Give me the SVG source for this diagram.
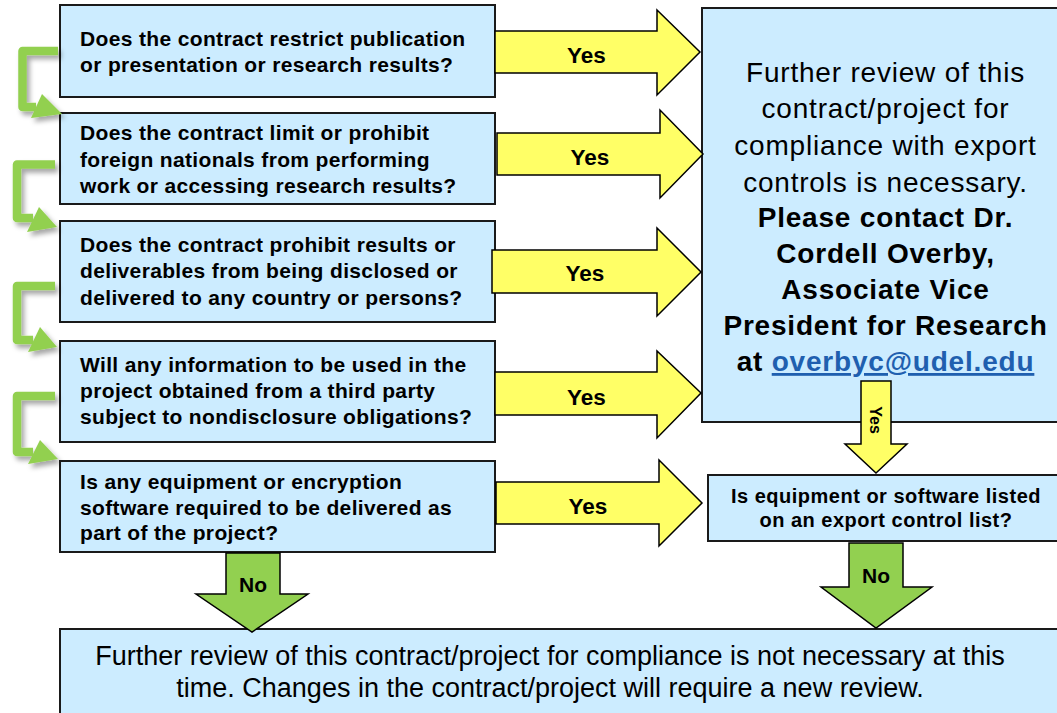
<svg xmlns="http://www.w3.org/2000/svg" width="1057" height="713" viewBox="0 0 1057 713">
<defs>
<style>
.box{fill:#CCECFF;stroke:#1a1a1a;stroke-width:2}
.q{font-family:"Liberation Sans",Arial,sans-serif;font-weight:bold;font-size:21px;letter-spacing:0.35px;fill:#000}
.big{font-family:"Liberation Sans",Arial,sans-serif;font-size:28px;letter-spacing:0.8px;fill:#000;text-anchor:middle}
.bigb{font-weight:bold}
.q2{font-family:"Liberation Sans",Arial,sans-serif;font-weight:bold;font-size:20px;letter-spacing:0.5px;fill:#000;text-anchor:middle}
.bot{font-family:"Liberation Sans",Arial,sans-serif;font-size:27px;fill:#000;text-anchor:middle}
.yes{fill:#FFFF66;stroke:#000;stroke-width:1.5;stroke-linejoin:miter}
.no{fill:#92D050;stroke:#000;stroke-width:1.5}
.lbl{font-family:"Liberation Sans",Arial,sans-serif;font-weight:bold;font-size:22.5px;fill:#000;text-anchor:middle}
.lbln{font-family:"Liberation Sans",Arial,sans-serif;font-weight:bold;font-size:21px;fill:#000;text-anchor:middle}
.gbar{fill:none;stroke:#92D050;stroke-width:8.5;stroke-linejoin:round}
.ghead{fill:#92D050}
.link{fill:#1F5FAF;text-decoration:underline}
</style>
<filter id="sh" x="-30%" y="-30%" width="160%" height="160%">
<feDropShadow dx="3" dy="4" stdDeviation="2.5" flood-color="#000" flood-opacity="0.35"/>
</filter>
</defs>
<rect width="1057" height="713" fill="#fff"/>

<g id="q1">
<rect class="box" x="60" y="5" width="435" height="92"/>
<text class="q" x="80" y="46">Does the contract restrict publication</text>
<text class="q" x="80" y="72">or presentation or research results?</text>
</g>
<g id="q2">
<rect class="box" x="60" y="113" width="435" height="91"/>
<text class="q" x="80" y="140">Does the contract limit or prohibit</text>
<text class="q" x="80" y="166.5">foreign nationals from performing</text>
<text class="q" x="80" y="193">work or accessing research results?</text>
</g>
<g id="q3">
<rect class="box" x="60" y="221" width="435" height="101"/>
<text class="q" x="80" y="252">Does the contract prohibit results or</text>
<text class="q" x="80" y="278">deliverables from being disclosed or</text>
<text class="q" x="80" y="305">delivered to any country or persons?</text>
</g>
<g id="q4">
<rect class="box" x="60" y="341" width="435" height="101"/>
<text class="q" x="80" y="372">Will any information to be used in the</text>
<text class="q" x="80" y="398">project obtained from a third party</text>
<text class="q" x="80" y="424">subject to nondisclosure obligations?</text>
</g>
<g id="q5">
<rect class="box" x="60" y="461" width="435" height="91"/>
<text class="q" x="80" y="489">Is any equipment or encryption</text>
<text class="q" x="80" y="515">software required to be delivered as</text>
<text class="q" x="80" y="540">part of the project?</text>
</g>
<g id="review">
<rect class="box" x="702" y="8" width="370" height="414"/>
<text class="big" x="885.5" y="82">Further review of this</text>
<text class="big" x="885.5" y="118">contract/project for</text>
<text class="big" x="885.5" y="155">compliance with export</text>
<text class="big" x="885.5" y="191.5">controls is necessary.</text>
<text class="big bigb" x="885.5" y="227">Please contact Dr.</text>
<text class="big bigb" x="885.5" y="263">Cordell Overby,</text>
<text class="big bigb" x="885.5" y="299">Associate Vice</text>
<text class="big bigb" x="885.5" y="335">President for Research</text>
<text class="big bigb" x="885.5" y="371">at <tspan class="link">overbyc@udel.edu</tspan></text>
</g>
<g id="listq">
<rect class="box" x="708" y="475" width="364" height="66"/>
<text class="q2" x="886" y="503">Is equipment or software listed</text>
<text class="q2" x="886" y="527">on an export control list?</text>
</g>
<g id="noreview">
<rect class="box" x="60" y="629" width="1012" height="100"/>
<text class="bot" x="550" y="665">Further review of this contract/project for compliance is not necessary at this</text>
<text class="bot" x="550" y="697">time. Changes in the contract/project will require a new review.</text>
</g>

<g id="connectors">
<g filter="url(#sh)">
<path class="gbar" d="M58,51 H22.5 V107 H36"/>
<polygon class="ghead" points="42,94 62,114 31,118"/>
</g>
<g filter="url(#sh)">
<path class="gbar" d="M55,164.5 H17 V218 H33"/>
<polygon class="ghead" points="39,207 57,227 27,232"/>
</g>
<g filter="url(#sh)">
<path class="gbar" d="M55,286 H17 V340 H33"/>
<polygon class="ghead" points="40,327 57,347 28,352"/>
</g>
<g filter="url(#sh)">
<path class="gbar" d="M55,396 H17 V452 H33"/>
<polygon class="ghead" points="40,440 58,459 28,464"/>
</g>

<path class="yes" d="M495,31 H657 V10 L700,52 L657,95 V73 H495 Z"/>
<text class="lbl" x="586.5" y="63">Yes</text>
<path class="yes" d="M497,133 H660 V110 L703,154 L660,198 V175 H497 Z"/>
<text class="lbl" x="590" y="165">Yes</text>
<path class="yes" d="M492,250 H657 V228 L701,272 L657,316 V293 H492 Z"/>
<text class="lbl" x="585" y="281">Yes</text>
<path class="yes" d="M495,372 H657 V351 L701,393 L657,438 V415 H495 Z"/>
<text class="lbl" x="586.5" y="405">Yes</text>
<path class="yes" d="M496,482 H659 V460 L702,503 L659,546 V524 H496 Z"/>
<text class="lbl" x="588" y="514">Yes</text>

<path class="yes" d="M861,381 H891 V444 H907 L876,473 L845,444 H861 Z"/>
<text class="lbln" style="font-size:16px" transform="translate(870,420) rotate(90)">Yes</text>

<path class="no" d="M849,543 H903 V587 H932 L876,628 L821,587 H849 Z"/>
<text class="lbln" x="876" y="583">No</text>
<path class="no" d="M226,553 H280 V594 H308 L252,632 L196,594 H226 Z"/>
<text class="lbln" x="253" y="592">No</text>
</g>
</svg>
